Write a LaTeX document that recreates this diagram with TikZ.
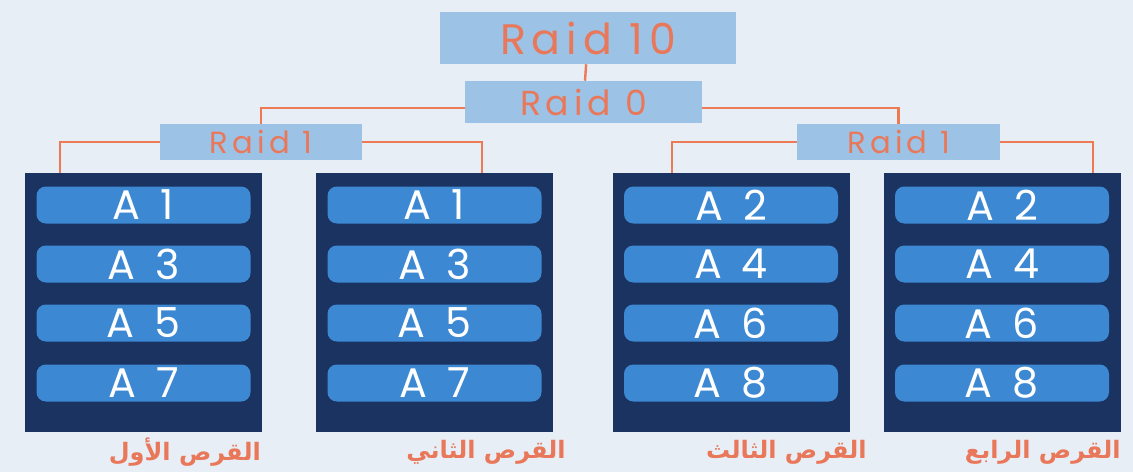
\documentclass[tikz,border=0pt]{standalone}
\usepackage{fontspec}
\setmainfont{Poppins}
\newfontfamily\raidfont{Poppins}[LetterSpace=14]
\newfontfamily\blockfont{Poppins}[LetterSpace=22]
\newfontfamily\arabicfont[Script=Arabic]{DejaVu Sans}
\TeXXeTstate=1
\definecolor{bggray}{HTML}{E8EEF6}
\definecolor{raidblue}{HTML}{9CC3E6}
\definecolor{raidorange}{HTML}{E9785A}
\definecolor{lineorange}{HTML}{EE7A55}
\definecolor{disknavy}{HTML}{1B3360}
\definecolor{slotblue}{HTML}{3C88D3}

\begin{document}
\begin{tikzpicture}[x=0.75pt,y=0.75pt,yscale=-1,xscale=1,
    raidbox/.style={fill=raidblue,text=raidorange,inner sep=0pt},
    disk/.style={fill=disknavy,inner sep=0pt,minimum width=177.75pt,minimum height=194.25pt},
    slot/.style={fill=slotblue,text=white,rounded corners=7pt,inner sep=0pt,minimum width=160.5pt,minimum height=27.75pt,font=\blockfont\fontsize{31}{33}\selectfont},
    link/.style={draw=lineorange,line width=1.8pt},
    disklabel/.style={anchor=east,text=raidorange,inner sep=0pt,font=\arabicfont\bfseries\fontsize{18}{20}\selectfont}]
    \useasboundingbox (0,0) rectangle (1133,472);
    \fill[bggray] (0,0) rectangle (1133,472);
    % raid levels
    \node[raidbox,minimum width=222pt,minimum height=39pt,font=\raidfont\fontsize{32}{34}\selectfont] (raid10) at (588,38) {Raid 10};
    \node[raidbox,minimum width=177.75pt,minimum height=31.5pt,font=\raidfont\fontsize{26}{28}\selectfont] (raid0) at (583.5,102) {Raid 0};
    \node[raidbox,minimum width=151.5pt,minimum height=27pt,font=\raidfont\fontsize{23}{25}\selectfont] (raid1a) at (261,142) {Raid 1};
    \node[raidbox,minimum width=152pt,minimum height=27pt,font=\raidfont\fontsize{23}{25}\selectfont] (raid1b) at (898.5,142) {Raid 1};
    % disks and blocks
    \foreach \d/\x/\a/\b/\c/\e in {1/143.5/1/3/5/7,2/434.5/1/3/5/7,3/731/2/4/6/8,4/1002/2/4/6/8}{
        \node[disk] (disk\d) at (\x,302.5) {};
        \foreach \n/\y in {\a/205,\b/264,\c/323,\e/383}
            \node[slot] (blk\d\n) at (\x,\y) {A \n};
    }
    \coordinate (d1top) at (60,173);
    \coordinate (d2top) at (482,173);
    \coordinate (d3top) at (672,173);
    \coordinate (d4top) at (1093,173);
    \coordinate (r0left) at (465,108);
    \coordinate (r0right) at (702,108);
    % connectors
    \draw[link] (raid10) -- (raid0);
    \draw[link] (r0left) -| (raid1a.north);
    \draw[link] (r0right) -| (raid1b.north);
    \draw[link] (raid1a.west) -| (d1top);
    \draw[link] (raid1a.east) -| (d2top);
    \draw[link] (raid1b.west) -| (d3top);
    \draw[link] (raid1b.east) -| (d4top);
    % disk names
    \node[disklabel] (name1) at (261,452) {\beginR القرص الأول\endR};
    \node[disklabel] (name2) at (566,452) {\beginR القرص الثاني\endR};
    \node[disklabel] (name3) at (867,452) {\beginR القرص الثالث\endR};
    \node[disklabel] (name4) at (1121,452) {\beginR القرص الرابع\endR};
\end{tikzpicture}
\end{document}
